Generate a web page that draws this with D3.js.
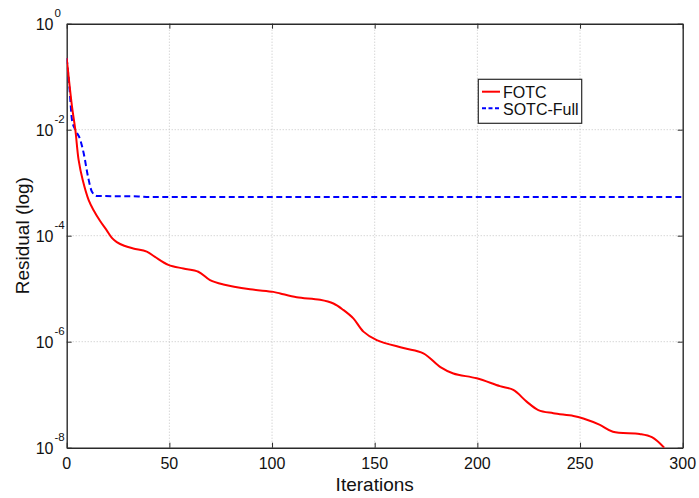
<!DOCTYPE html>
<html>
<head>
<meta charset="utf-8">
<script src="https://cdn.jsdelivr.net/npm/d3@7"></script>
<style>
html,body{margin:0;padding:0;background:#fff;}
svg{display:block;font-family:"Liberation Sans",Arial,Helvetica,sans-serif;}
</style>
</head>
<body>
<svg id="chart" width="699" height="498"></svg>
<script>
// ---- data ----
const fotcIter = [0, 2.6, 4.2, 5.8, 7.8, 10.7, 13.1, 16.2, 19.5, 22, 24.4, 28, 32.4, 39, 43, 49.5, 56.8, 64.1, 69.8, 76.3, 89.3, 100.6, 104, 112, 123.4, 129.9, 134.7, 139.6, 144.5, 151, 164, 173.7, 182, 188.3, 199.7, 211, 217.5, 224, 229.7, 237, 246.8, 251.6, 259.7, 266, 279, 285, 291];
const fotcResidual = [0.224, 0.0269, 0.0100, 0.00269, 0.00112, 4.68e-4, 3.02e-4, 1.91e-4, 1.26e-4, 9.12e-5, 7.59e-5, 6.46e-5, 5.75e-5, 5.01e-5, 3.98e-5, 2.82e-5, 2.40e-5, 2.09e-5, 1.45e-5, 1.20e-5, 9.77e-6, 8.71e-6, 8.13e-6, 6.92e-6, 6.17e-6, 5.25e-6, 3.98e-6, 2.75e-6, 1.55e-6, 1.07e-6, 7.59e-7, 6.03e-7, 3.31e-7, 2.51e-7, 2.04e-7, 1.45e-7, 1.23e-7, 7.41e-8, 5.13e-8, 4.47e-8, 3.98e-8, 3.55e-8, 2.69e-8, 2.00e-8, 1.82e-8, 1.58e-8, 1.0e-8];
const sotcIter = [0, 1.3, 2.6, 4.2, 6.6, 8.3, 10.4, 12.3, 14.8, 35, 40, 300];
const sotcResidual = [0.224, 0.0646, 0.0151, 0.0100, 6.46e-3, 3.55e-3, 1.29e-3, 6.76e-4, 5.62e-4, 5.50e-4, 5.37e-4, 5.37e-4];
const xTicks = [0, 50, 100, 150, 200, 250, 300];
const yTickExponents = [0, -2, -4, -6, -8];
const seriesNames = ["FOTC", "SOTC-Full"];
const xLabel = "Iterations";
const yLabel = "Residual (log)";

// ---- layout ----
const L = 66.7, R = 682.7, T = 23.7, B = 447.7;
const svg = d3.select("#chart");
const x = d3.scaleLinear().domain([0, 300]).range([L, R]);
const y = d3.scaleLog().domain([1e-8, 1]).range([B, T]);

// grid
const grid = svg.append("g").attr("stroke", "#c4c4c4").attr("stroke-width", 1).attr("stroke-dasharray", "1,2");
xTicks.slice(1, -1).forEach(t => {
  grid.append("line").attr("x1", x(t)).attr("x2", x(t)).attr("y1", T).attr("y2", B);
});
yTickExponents.slice(1, -1).forEach(e => {
  grid.append("line").attr("x1", L).attr("x2", R).attr("y1", y(Math.pow(10, e))).attr("y2", y(Math.pow(10, e)));
});

// axes with inward ticks
const axCol = "#2a2a2a";
const xb = svg.append("g").attr("transform", `translate(0,${B})`)
  .call(d3.axisBottom(x).tickValues(xTicks).tickSizeInner(-5).tickSizeOuter(0).tickFormat(""));
const xt = svg.append("g").attr("transform", `translate(0,${T})`)
  .call(d3.axisTop(x).tickValues(xTicks).tickSizeInner(-5).tickSizeOuter(0).tickFormat(""));
const yTickVals = yTickExponents.map(e => Math.pow(10, e));
const yl = svg.append("g").attr("transform", `translate(${L},0)`)
  .call(d3.axisLeft(y).tickValues(yTickVals).tickSizeInner(-5).tickSizeOuter(0).tickFormat(""));
const yr = svg.append("g").attr("transform", `translate(${R},0)`)
  .call(d3.axisRight(y).tickValues(yTickVals).tickSizeInner(-5).tickSizeOuter(0).tickFormat(""));
[xb, xt, yl, yr].forEach(g => {
  g.selectAll("path").attr("stroke", axCol).attr("stroke-width", 1.4);
  g.selectAll("line").attr("stroke", axCol).attr("stroke-width", 1);
});

// tick labels
svg.append("g").selectAll("text").data(xTicks).join("text")
  .attr("x", d => x(d)).attr("y", 468.5).attr("text-anchor", "middle")
  .attr("font-size", 16).attr("fill", "#111").text(d => d);
const yLab = svg.append("g").selectAll("g").data(yTickExponents).join("g");
yLab.append("text").attr("x", 53.5).attr("y", d => y(Math.pow(10, d)) + 6.5)
  .attr("text-anchor", "end").attr("font-size", 16).attr("fill", "#111").text("10");
yLab.append("text").attr("x", 54.5).attr("y", d => y(Math.pow(10, d)) - 7)
  .attr("text-anchor", "start").attr("font-size", 11.5).attr("fill", "#111").text(d => d === 0 ? "0" : String(d));

// axis titles
svg.append("text").attr("x", (L + R) / 2).attr("y", 491).attr("text-anchor", "middle")
  .attr("font-size", 19).attr("fill", "#111").text(xLabel);
svg.append("text").attr("transform", `translate(29,${(T + B) / 2}) rotate(-90)`)
  .attr("text-anchor", "middle").attr("font-size", 19).attr("fill", "#111").text(yLabel);

// clip
svg.append("defs").append("clipPath").attr("id", "clip")
  .append("rect").attr("x", L).attr("y", T).attr("width", R - L).attr("height", B - T);

const lineBlue = d3.line().x(d => x(d[0])).y(d => y(d[1])).curve(d3.curveMonotoneX);
const lineRed = d3.line().x(d => x(d[0])).y(d => y(d[1])).curve(d3.curveCatmullRom.alpha(0.5));
const plot = svg.append("g").attr("clip-path", "url(#clip)");
plot.append("path").datum(sotcIter.map((v, i) => [v, sotcResidual[i]]))
  .attr("d", lineBlue).attr("fill", "none").attr("stroke", "#0000ff").attr("stroke-width", 2)
  .attr("stroke-dasharray", "6,3.5");
plot.append("path").datum(fotcIter.map((v, i) => [v, fotcResidual[i]]))
  .attr("d", lineRed).attr("fill", "none").attr("stroke", "#ff0000").attr("stroke-width", 2);

// legend
const lg = svg.append("g");
lg.append("rect").attr("x", 478.3).attr("y", 79.3).attr("width", 103.4).attr("height", 44)
  .attr("fill", "#fff").attr("stroke", axCol).attr("stroke-width", 1.2);
lg.append("line").attr("x1", 482).attr("x2", 500).attr("y1", 91.7).attr("y2", 91.7)
  .attr("stroke", "#ff0000").attr("stroke-width", 2);
lg.append("line").attr("x1", 482).attr("x2", 500).attr("y1", 108.3).attr("y2", 108.3)
  .attr("stroke", "#0000ff").attr("stroke-width", 2).attr("stroke-dasharray", "4,2.5");
lg.append("text").attr("x", 503).attr("y", 98).attr("font-size", 16).attr("fill", "#111").text(seriesNames[0]);
lg.append("text").attr("x", 503).attr("y", 115).attr("font-size", 16).attr("fill", "#111").text(seriesNames[1]);
</script>
</body>
</html>
